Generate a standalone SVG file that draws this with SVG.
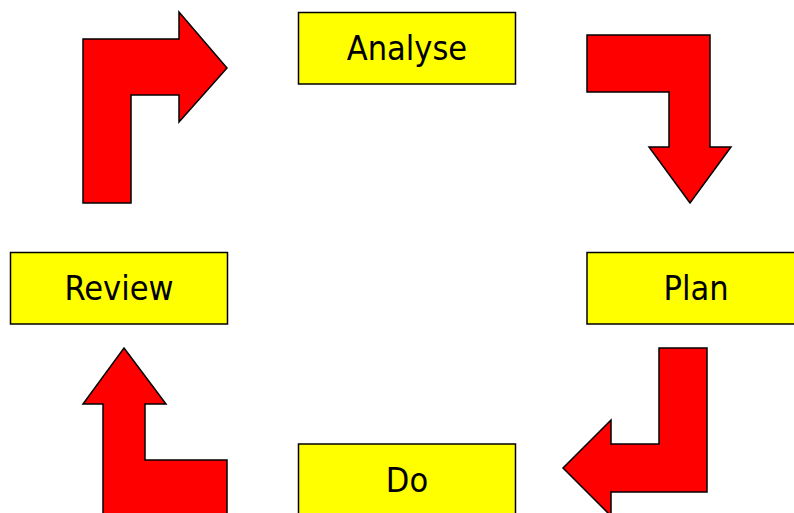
<svg xmlns="http://www.w3.org/2000/svg" width="794" height="513" viewBox="0 0 794 513">
<style>
.box{fill:#ffff00;stroke:#000;stroke-width:1.5}
.lbl{font-family:"DejaVu Sans Condensed","DejaVu Sans",sans-serif;font-size:34px;fill:#000;text-anchor:middle}
.arr{fill:#ff0000;stroke:#000;stroke-width:1.5;stroke-linejoin:miter}
</style>
<rect width="794" height="513" fill="#fff"/>
<g id="connectors">
<polygon class="arr" points="83,39 179,39 179,12 227,68 179,122 179,95 131,95 131,203 83,203"/>
<polygon class="arr" points="587,35 710,35 710,147 731,147 690,203 649,147 669,147 669,92 587,92"/>
<polygon class="arr" points="659,348 707,348 707,492 611,492 611,516 563,468 611,420 611,444 659,444"/>
<polygon class="arr" points="124,348 166,404 145,404 145,460 227,460 227,520 103,520 103,404 83,404"/>
</g>
<g id="analyse"><rect class="box" x="298.5" y="12.5" width="217" height="71.5"/><text class="lbl" x="407" y="60">Analyse</text></g>
<g id="plan"><rect class="box" x="587" y="252.5" width="218" height="71.5"/><text class="lbl" x="696" y="300">Plan</text></g>
<g id="do"><rect class="box" x="298.5" y="444" width="217" height="72"/><text class="lbl" x="407" y="492">Do</text></g>
<g id="review"><rect class="box" x="10.5" y="252.5" width="217" height="71.5"/><text class="lbl" x="119" y="300">Review</text></g>
</svg>
